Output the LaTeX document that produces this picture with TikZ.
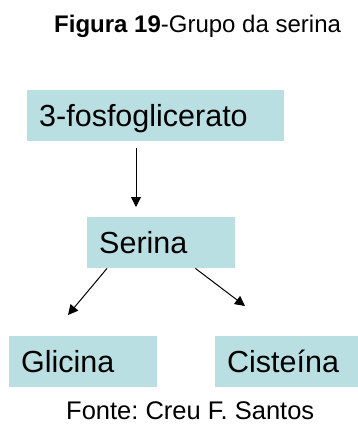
\documentclass[tikz,border=0pt]{standalone}
\usepackage{fontspec}
\setmainfont{Liberation Sans}
\usetikzlibrary{calc,arrows.meta}
\definecolor{boxfill}{RGB}{185,223,227}
\frenchspacing
\begin{document}
\begin{tikzpicture}[x=1pt,y=-1pt,
  stage/.style={fill=boxfill, draw=none, inner sep=0pt, anchor=north west,
    minimum height=51pt, align=left, text height=24pt, text depth=3pt,
    font=\fontsize{30.5}{36}\selectfont},
  caption/.style={inner sep=0pt, anchor=base west},
  flow/.style={line width=1pt, -{Triangle[length=10pt,width=10pt]}}]
  \useasboundingbox (0,0) rectangle (358,424);

  % title and source line
  \node[caption, font=\fontsize{24}{28}\selectfont] (title) at (54,32)
    {\textbf{Figura 19}-Grupo da serina};
  \node[caption, font=\fontsize{25.5}{30}\selectfont] (source) at (66,419)
    {Fonte: Creu F. Santos};

  % pathway boxes
  \node[stage, minimum width=257pt, text width=233pt] (pga) at (27,90) {3-fosfoglicerato};
  \node[stage, minimum width=148pt, text width=124pt] (ser) at (87,217) {Serina};
  \node[stage, minimum width=148pt, text width=124pt] (gly) at (9,336) {Glicina};
  \node[stage, minimum width=143pt, text width=119pt] (cys) at (215,336) {Cisteína};

  % arrows between the steps
  \draw[flow] ($(pga.south west)+(109,7)$) -- ($(ser.north west)+(49,-10)$);
  \draw[flow] ($(ser.south west)+(20,0)$) -- ($(gly.north west)+(59,-21)$);
  \draw[flow] ($(ser.south east)+(-40,0)$) -- ($(cys.north west)+(30,-30)$);
\end{tikzpicture}
\end{document}
